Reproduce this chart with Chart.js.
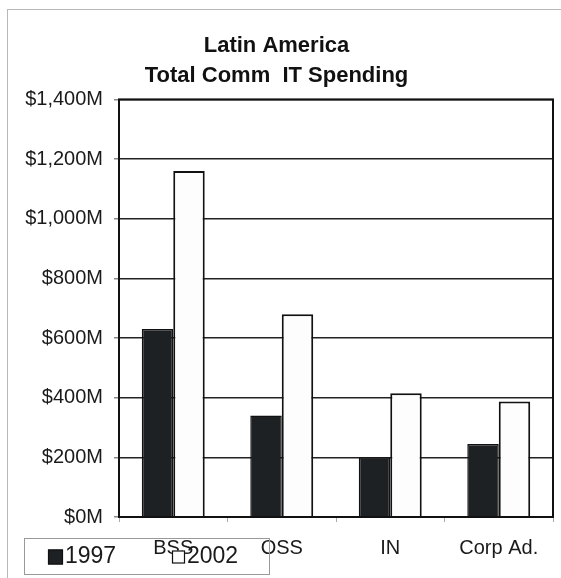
<!DOCTYPE html>
<html>
<head>
<meta charset="utf-8">
<script src="https://cdn.jsdelivr.net/npm/chart.js@4"></script>
<style>
  body { margin: 0; background: #fff; }
  #wrap { position: relative; width: 561px; height: 578px; }
  #frame { position: absolute; left: 7px; top: 9px; width: 560px; height: 575px; border: 1px solid #b8b8b8; box-sizing: border-box; }
  canvas { position: absolute; left: 0; top: 0; }
</style>
</head>
<body>
<div id="wrap">
  <div id="frame"></div>
  <canvas id="spendChart" width="561" height="578"></canvas>
</div>
<script>
// spending by segment, $M
const categories = ["BSS", "OSS", "IN", "Corp Ad."];
const spend1997 = [630, 340, 200, 245];
const spend2002 = [1160, 680, 415, 387];
const yTicks = [0, 200, 400, 600, 800, 1000, 1200, 1400];

const FONT = "'Liberation Sans', Arial, sans-serif";

function money(v) {
    return "$" + v.toLocaleString("en-US") + "M";
}

// legend sits in its own box, overlapping the category labels
const boxLegend = {
    id: "boxLegend",
    afterDraw(chart) {
        const ctx = chart.ctx;
        const x = 24, y = 538, w = 245, h = 36;
        ctx.save();
        ctx.strokeStyle = "#999";
        ctx.lineWidth = 1;
        ctx.strokeRect(x + 0.5, y + 0.5, w, h);
        ctx.font = "23px " + FONT;
        ctx.textBaseline = "middle";
        const cy = y + h / 2 + 1;
        const items = [
            { ds: chart.data.datasets[0], x: x + 24, size: 15 },
            { ds: chart.data.datasets[1], x: x + 148, size: 13 }
        ];
        items.forEach(it => {
            const s = it.size;
            ctx.fillStyle = it.ds.backgroundColor;
            ctx.fillRect(it.x, cy - s / 2, s, s);
            ctx.strokeStyle = "#111";
            ctx.lineWidth = 1.2;
            ctx.strokeRect(it.x + 0.5, cy - s / 2 + 0.5, s - 1, s - 1);
            ctx.fillStyle = "#1a1a1a";
            ctx.fillText(it.ds.label, it.x + s + 2, cy);
        });
        ctx.restore();
    }
};

// heavy frame round the plot area
const plotFrame = {
    id: "plotFrame",
    afterDatasetsDraw(chart) {
        const a = chart.chartArea;
        const ctx = chart.ctx;
        ctx.save();
        ctx.strokeStyle = "#111";
        ctx.lineWidth = 2;
        ctx.strokeRect(a.left, a.top, a.right - a.left, a.bottom - a.top);
        ctx.restore();
    }
};

new Chart(document.getElementById("spendChart"), {
    type: "bar",
    data: {
        labels: categories,
        datasets: [
            {
                label: "1997",
                data: spend1997,
                backgroundColor: "#1d2123",
                borderColor: "#111",
                borderWidth: 1.5
            },
            {
                label: "2002",
                data: spend2002,
                backgroundColor: "#fdfdfd",
                borderColor: "#111",
                borderWidth: 2
            }
        ]
    },
    options: {
        responsive: false,
        animation: false,
        layout: { padding: { left: 0, right: 8, top: 0, bottom: 0 } },
        datasets: {
            bar: { categoryPercentage: 0.58, barPercentage: 1.0 }
        },
        plugins: {
            legend: { display: false },
            tooltip: { enabled: false },
            title: {
                display: true,
                text: ["Latin America", "Total Comm  IT Spending"],
                color: "#111",
                font: { family: FONT, size: 22, weight: "bold", lineHeight: 1.35 },
                padding: { top: 31, bottom: 9 }
            }
        },
        scales: {
            x: {
                offset: true,
                grid: { display: true, drawOnChartArea: false, offset: true, color: "#aaa", tickLength: 5 },
                border: { display: false },
                ticks: { color: "#1a1a1a", font: { family: FONT, size: 20 }, padding: 14 },
                afterFit(scale) { scale.height = 61; }
            },
            y: {
                min: 0,
                max: 1400,
                afterBuildTicks(scale) { scale.ticks = yTicks.map(v => ({ value: v })); },
                grid: { color: "#222", lineWidth: 1.5, tickLength: 5, tickColor: "#888" },
                border: { display: false },
                ticks: { color: "#1a1a1a", font: { family: FONT, size: 20 }, padding: 11, callback: v => money(v) },
                afterFit(scale) { scale.width = 119; }
            }
        }
    },
    plugins: [plotFrame, boxLegend]
});
</script>
</body>
</html>
